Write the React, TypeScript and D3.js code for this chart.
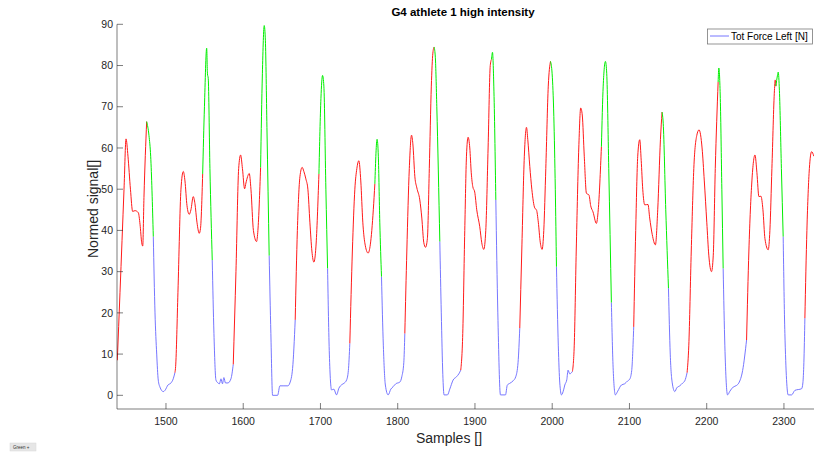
import React from "react";
import * as d3 from "d3";

const samples: number[] = [
  1437, 1440.5, 1445.7, 1448.3, 1450.8, 1454, 1456.9, 1459.9, 1464.2, 1466.4, 1468.6, 1469.9, 1471.5, 1475, 1478, 1480.2, 1483.6, 1485.8, 1488, 1490, 1492.2, 1496.5, 1498.7, 1502.6, 1506.5, 1509.4,
  1511.6, 1512.5, 1515.5, 1519.4, 1522.4, 1524.6, 1527.2, 1530.1, 1532.3, 1535.3, 1537.5, 1540.1, 1543.1, 1544.7, 1547.5, 1549.8, 1552.7, 1553.7, 1554.7, 1556.9, 1559.9, 1562.1, 1564.7, 1567.3, 1569.2, 1571.2, 1573.1, 1575, 1577, 1580.2, 1584.1,
  1587.1, 1590.6, 1594.1, 1596.6, 1599, 1601.8, 1603.5, 1607.8, 1610, 1613.2, 1617.3, 1619, 1622.5, 1624.8, 1627.2, 1628.7, 1630.7, 1633.6, 1635.8, 1638, 1644.5, 1647.5, 1652.7, 1657.8, 1660.4, 1663.9,
  1667.3, 1670.1, 1673.4, 1676.3, 1678.5, 1681.1, 1683.7, 1686.3, 1688.9, 1691.5, 1694.1, 1698, 1700.6, 1702.7, 1704.4, 1707, 1709.2, 1711.5, 1714.4, 1717.3, 1720.8, 1723.8, 1727.7, 1730.3, 1733.8, 1736.1,
  1738, 1741.3, 1744.5, 1747.1, 1749.7, 1752.2, 1754.8, 1757.4, 1761.7, 1764.5, 1768.4, 1770.4, 1773.3, 1774.9, 1776.8, 1779, 1781.4, 1784, 1787.6, 1791.1, 1794.1, 1797.5, 1802.7, 1805.3, 1807.9,
  1809.2, 1811.8, 1815, 1817.9, 1819.6, 1822.2, 1824.8, 1828.6, 1831.2, 1833.8, 1836, 1838.4, 1840.9, 1843.5, 1845.5, 1847.1, 1848.7, 1850.6, 1854.5, 1856.4, 1858.4, 1860, 1864.4, 1867.4, 1871.7, 1876.1, 1879.1,
  1881.6, 1884.2, 1886.8, 1889, 1891.1, 1893.3, 1895.2, 1897.2, 1899.7, 1902.3, 1906.2, 1908.8, 1911.4, 1914, 1917, 1919.8, 1921.4, 1922.7, 1924.4, 1927, 1929.6, 1933, 1939.5, 1941.9, 1945, 1949.3, 1952.8, 1955.8,
  1958, 1960.6, 1963.9, 1966.7, 1968.4, 1971, 1973.6, 1977.5, 1979.6, 1982, 1984.6, 1986.9, 1989.1, 1991.7, 1994.9, 1997.8, 1999.9, 2002.1, 2004, 2005.5, 2007.9, 2009.8, 2012, 2015, 2016.3, 2018.9, 2020.5, 2022.7,
  2026.2, 2028.5, 2031.1, 2034.4, 2036.9, 2038.9, 2041.5, 2044.3, 2047.6, 2049.8, 2052.8, 2057.2, 2059.6, 2063.7, 2066, 2068.9, 2070.6, 2073.2, 2076.6, 2079, 2081.8, 2084.8, 2089.6, 2093.8, 2097.7, 2100.3, 2102.9,
  2105.5, 2108.1, 2110.7, 2113.3, 2115.2, 2117.2, 2119.8, 2124, 2126.2, 2129.5, 2133.6, 2136.6, 2140.1, 2142.2, 2143.7, 2147, 2150.5, 2152.8, 2155.4, 2158.7, 2161.2, 2165.1, 2169, 2171.6,
  2174.6, 2176.8, 2180, 2183.3, 2187.1, 2190.1, 2194, 2196.9, 2200.1, 2202.7, 2206.2, 2208.5, 2211.1, 2214.8, 2215.7, 2217.6, 2219.6, 2221.3, 2223.5, 2227, 2230, 2234.3, 2238.7, 2241.6, 2246.5,
  2251.6, 2254.6, 2258.5, 2262.5, 2265, 2267.6, 2270.2, 2272.8, 2275.4, 2279.6, 2281.8, 2284.4, 2287.7, 2288.7, 2289.6, 2291.5, 2292.6, 2294.1, 2296.7, 2299, 2301.2, 2305.5, 2309.9, 2314.2, 2322.9, 2324.5, 2325.8,
  2327.1, 2329.7, 2332.9, 2335.8, 2338.7,
];

const values: number[] = [
  8.5, 25, 50, 62.2, 58, 50, 44.6, 44.8, 44.3, 41.5, 37, 36.2, 48, 66.4, 63, 58, 38.5, 20, 10, 3.7, 2, 0.9, 1.2, 2.5, 3, 4,
  5.5, 7, 25, 50, 54.3, 52, 46, 43.9, 45, 48.2, 46.5, 42, 39.3, 40.5, 53.7, 70, 84.2, 78, 76.9, 55, 32.8, 15, 3.7, 3, 2.8, 4, 2.8, 4.3, 3, 3, 4,
  7.5, 30, 55, 58.3, 55, 50.1, 51.5, 53.8, 50, 40, 37.3, 40, 55.3, 78, 89.7, 86, 65, 33.9, 15, 0, 0, 2.3, 2.3, 2.3, 3, 6.5,
  18.3, 40, 53, 55.3, 54.3, 52.5, 50, 42, 35, 32.3, 36, 53.7, 72, 77.6, 75, 50, 30.8, 10, 1.3, 1.5, 0.1, 1.7, 2.6, 2.9, 3.7, 6,
  12.6, 35, 50, 55, 56.9, 52, 42, 37, 34.5, 36.5, 45, 51.3, 62.1, 58, 42, 28.8, 12, 2.5, 0.1, 1.5, 2.1, 2.8, 3.2, 4.5, 8,
  15, 35, 55, 63.1, 61, 53, 50.3, 47.4, 43, 37, 35.9, 38, 55, 75, 83, 84.5, 82, 70, 37.3, 20, 5, 0.1, 0.1, 1.5, 3.7, 4.5, 5.2,
  6.1, 15, 40, 58, 62.6, 60, 54, 50.6, 49.3, 45, 40.9, 37, 35.4, 40, 60, 80, 81.5, 83.2, 75, 47.4, 20, 0.1, 0.1, 2.5, 2.9, 3.5, 4.5, 8,
  16.3, 35, 58, 65, 62, 55.5, 50, 45.4, 45, 42, 37, 35.4, 40, 55, 75, 81, 78, 67.6, 50, 31.2, 12, 3, 0.1, 1.5, 2.5, 3.8, 6.1, 5.2,
  5.8, 12, 35, 60, 69.7, 68, 58, 49, 48.6, 46, 44.5, 41.7, 45, 60.3, 75, 81, 78, 55, 22.5, 6, 0.1, 1, 2.5, 2.8, 3.5, 3.9, 6,
  16.6, 40, 58, 62, 57, 50, 46.2, 46.3, 43, 39, 36.5, 45, 62, 68.7, 66, 45, 26, 10, 3, 0.9, 1.8, 2.3, 3, 3.5,
  5.5, 12, 35, 55, 63, 64.4, 60, 52, 42, 34, 30, 34, 55, 76, 79.4, 72, 50, 30.8, 12, 0.1, 1, 2, 2.4, 3, 6,
  13.4, 35, 52, 58.3, 54, 48.2, 48.3, 45, 38, 35.3, 40, 55, 74, 76.5, 75, 77.5, 78.4, 74, 55, 38.5, 15, 0.1, 0.1, 1.2, 1.6, 3, 8,
  18.7, 40, 55, 59.1, 58,
];

// sample ranges drawn over the base signal in red (loading phase) and green (peak / unloading phase)
const redRanges: [number, number][] = [
  [1437, 1475], [1511.6, 1547.5], [1587.1, 1622.5], [1667.3, 1698], [1738, 1770.4], [1809.2, 1847.1],
  [1881.6, 1921.4], [1958, 1997.8], [2026.2, 2063.7], [2105.5, 2142.2], [2174.6, 2214.8], [2251.6, 2289.6],
  [2327.1, 2338.7],
];
const greenRanges: [number, number][] = [
  [1475, 1483.6], [1547.5, 1559.9], [1622.5, 1633.6], [1698, 1709.2], [1770.4, 1779], [1847.1, 1854.5],
  [1921.4, 1927], [1997.8, 2005.5], [2063.7, 2076.6], [2142.2, 2150.5], [2214.8, 2221.3], [2289.6, 2299],
];

const xTicks: number[] = [1500, 1600, 1700, 1800, 1900, 2000, 2100, 2200, 2300];
const yTicks: number[] = [0, 10, 20, 30, 40, 50, 60, 70, 80, 90];

const title = "G4 athlete 1 high intensity";
const xLabel = "Samples []";
const yLabel = "Normed signal[]";
const legendLabel = "Tot Force Left [N]";

const W = 814;
const H = 452;
const L = 117;
const R = 814;
const T = 24.3;
const B = 409;
const FONT = "'Liberation Sans', Arial, Helvetica, sans-serif";
const AX = "#262626";
const BLUE = "#6666ff";

export default function App() {
  const x = d3.scaleLinear().domain([1436.6, 2338.9]).range([L, R]);
  const y = d3.scaleLinear().domain([-3.32, 90]).range([B, T]);
  const pts: [number, number][] = samples.map((s, i) => [s, values[i]]);
  const line = d3
    .line<[number, number]>()
    .x((d) => x(d[0]))
    .y((d) => y(d[1]))
    .curve(d3.curveMonotoneX);

  const sub = (r: [number, number]) => pts.filter((p) => p[0] >= r[0] - 1e-6 && p[0] <= r[1] + 1e-6);
  const overlays = [...redRanges, ...greenRanges];
  const inside = (s: number) => overlays.some((r) => s > r[0] + 1e-6 && s < r[1] - 1e-6);
  // base signal drawn where no overlay covers it
  const baseSegs: [number, number][][] = [];
  let cur: [number, number][] = [];
  pts.forEach((p, i) => {
    const next = pts[i + 1];
    const mid = next ? (p[0] + next[0]) / 2 : p[0];
    cur.push(p);
    if (!next || inside(mid)) {
      if (cur.length > 1) baseSegs.push(cur);
      cur = [];
    }
  });

  return (
    <svg
      width={W}
      height={H}
      style={{ position: "absolute", left: 0, top: 0, background: "#fff" }}
      fontFamily={FONT}
    >
      <defs>
        <clipPath id="plot">
          <rect x={L} y={T - 2} width={R - L} height={B - T + 2} />
        </clipPath>
      </defs>
      <g clipPath="url(#plot)" fill="none">
        {baseSegs.map((s, i) => (
          <path key={"b" + i} d={line(s) || ""} stroke={BLUE} strokeWidth={0.9} />
        ))}
        {redRanges.map((r, i) => (
          <path key={"r" + i} d={line(sub(r)) || ""} stroke="#ff1a1a" strokeWidth={1} />
        ))}
        {greenRanges.map((r, i) => (
          <path key={"g" + i} d={line(sub(r)) || ""} stroke="#00ee00" strokeWidth={1} />
        ))}
      </g>
      {/* axes */}
      <line x1={L} x2={L} y1={T} y2={B} stroke={AX} strokeWidth={0.6} />
      <line x1={L} x2={R} y1={B} y2={B} stroke={AX} strokeWidth={0.6} />
      {yTicks.map((t) => (
        <g key={"y" + t}>
          <line x1={L} x2={L + 6} y1={y(t)} y2={y(t)} stroke={AX} strokeWidth={0.6} />
          <text x={L - 4} y={y(t)} dy="0.35em" textAnchor="end" fontSize={10.5} fill={AX}>
            {t}
          </text>
        </g>
      ))}
      {xTicks.map((t) => (
        <g key={"x" + t}>
          <line x1={x(t)} x2={x(t)} y1={B} y2={B - 6} stroke={AX} strokeWidth={0.6} />
          <text x={x(t)} y={B + 12} dy="0.35em" textAnchor="middle" fontSize={10.5} fill={AX}>
            {t}
          </text>
        </g>
      ))}
      <text x={463} y={16} textAnchor="middle" fontSize={11.5} fontWeight="bold" fill="#000">
        {title}
      </text>
      <text x={449} y={443} textAnchor="middle" fontSize={14} fill={AX}>
        {xLabel}
      </text>
      <text
        transform={`translate(98,209) rotate(-90)`}
        textAnchor="middle"
        fontSize={14}
        fill={AX}
      >
        {yLabel}
      </text>
      {/* legend */}
      <rect x={707.5} y={29} width={105} height={15} fill="#fff" stroke="#7a7a7a" strokeWidth={0.8} />
      <line x1={710} x2={729} y1={36} y2={36} stroke={BLUE} strokeWidth={0.9} />
      <text x={731} y={36.5} dy="0.35em" fontSize={10} fill="#000">
        {legendLabel}
      </text>
      {/* small button */}
      <rect x={10} y={443} width={26} height={8} fill="#e6e6e6" stroke="#d8d8d8" strokeWidth={0.5} />
      <text x={13} y={447.5} dy="0.35em" fontSize={4.5} fill="#333">
        Green +
      </text>
    </svg>
  );
}
